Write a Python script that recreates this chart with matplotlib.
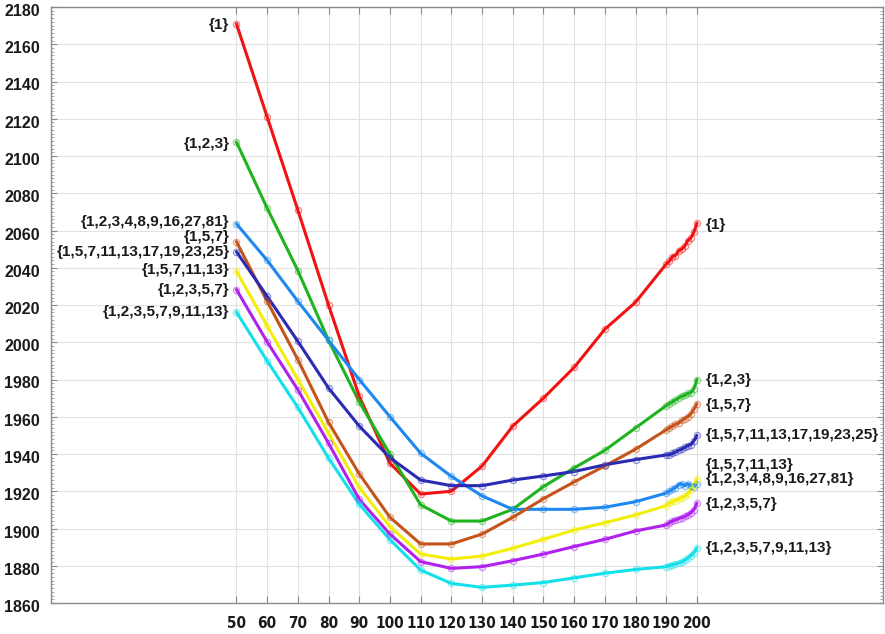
import matplotlib
matplotlib.use("Agg")
import matplotlib.pyplot as plt
import matplotlib.transforms as mtransforms
from matplotlib.ticker import MultipleLocator, FixedLocator

# x positions: coarse steps up to 190, then unit steps to 200
x = [50, 60, 70, 80, 90, 100, 110, 120, 130, 140, 150, 160, 170, 180, 190,
     191, 192, 193, 194, 195, 196, 197, 198, 199, 200]

s_1 = [2171, 2121, 2071, 2020, 1971, 1935, 1918.5, 1920, 1933.5, 1955, 1970, 1986.5, 2007,
       2021.5, 2042, 2043.5, 2046, 2046.5, 2049, 2050, 2051.5, 2054.5, 2056, 2059, 2064]
s_123 = [2107.5, 2072, 2038.5, 2001, 1968, 1940, 1912.7, 1904, 1904, 1910.3, 1922.5, 1932.5,
         1942, 1954, 1966, 1967, 1968, 1969, 1970, 1971, 1971.5, 1972.5, 1973, 1975, 1980]
s_pow = [2063.6, 2044, 2022, 2001, 1980, 1960, 1940.4, 1928, 1917.5, 1910.3, 1910.3, 1910.3,
         1911.4, 1914.4, 1919, 1920, 1921, 1922, 1923.5, 1924, 1923, 1924, 1923, 1922.5, 1924]
s_157 = [2054, 2022, 1990.7, 1957, 1929.3, 1906, 1891.7, 1891.7, 1897, 1906, 1916, 1925,
         1933.6, 1942.6, 1953, 1954, 1955, 1956, 1956.5, 1958, 1959, 1960, 1961.5, 1964, 1967]
s_157_25 = [2048.6, 2024.7, 2000.5, 1975.4, 1955, 1938, 1926, 1923, 1923, 1926, 1928.2, 1930.6,
            1934.2, 1937, 1939.5, 1939.5, 1940.3, 1941, 1942, 1942.5, 1943.5, 1944.5, 1945,
            1947, 1950]
s_157_13 = [2038.2, 2008.8, 1980, 1951.2, 1922, 1901, 1886.3, 1883.6, 1885.2, 1889.4, 1894.2,
            1899.2, 1903.1, 1907.3, 1912.3, 1913.5, 1914.5, 1915, 1915.7, 1916.6, 1917.3,
            1918.6, 1920.7, 1923.4, 1926.5]
s_1235 = [2028.3, 2000.2, 1974.5, 1945.8, 1915.7, 1897, 1882.2, 1878.6, 1879.5, 1882.7, 1886.3,
          1890.3, 1894.2, 1898.7, 1901.9, 1903, 1904, 1904.6, 1905.3, 1905.8, 1906.5, 1907.3,
          1908.5, 1910, 1913.6]
s_1235_13 = [2016.2, 1990, 1965, 1937.8, 1913, 1894, 1877.7, 1870.5, 1868.4, 1869.6, 1871,
             1873.5, 1876, 1878, 1879.5, 1880, 1880.5, 1881, 1881.5, 1882, 1883, 1884, 1885.5,
             1887, 1889.5]

names = ["{1}", "{1,2,3}", "{1,2,3,4,8,9,16,27,81}", "{1,5,7}",
         "{1,5,7,11,13,17,19,23,25}", "{1,5,7,11,13}", "{1,2,3,5,7}",
         "{1,2,3,5,7,9,11,13}"]
series = [s_1, s_123, s_pow, s_157, s_157_25, s_157_13, s_1235, s_1235_13]
colors = ["#f21212", "#1fb41f", "#1e88f0", "#c4541a", "#2a2ab4", "#f2ee08", "#b020ee", "#12e0ea"]

# vertical nudges (points) for the end labels so they do not collide
left_dy = [0, 0, 2.6, 4.8, 1.2, 1.7, 0.5, 0.9]
right_dy = [0, 0.7, 4.3, 0.5, 1.0, 11.5, 0.4, 1.2]

xticks = [50, 60, 70, 80, 90, 100, 110, 120, 130, 140, 150, 160, 170, 180, 190, 200]

fig = plt.figure(figsize=(8.85, 6.34), dpi=100)
ax = fig.add_axes([51 / 885, 31 / 634, (883 - 51) / 885, (603 - 7) / 634])

label_font = dict(family=["Liberation Sans", "DejaVu Sans"], weight="bold", size=11,
                  color="#1a1a1a")

for ys, c, name, ldy, rdy in zip(series, colors, names, left_dy, right_dy):
    ax.plot(x, ys, color=c, lw=2.2, solid_capstyle="round", zorder=3)
    ax.plot(x, ys, ls="none", marker="o", ms=4.4, mfc="none", mec=c, mew=1.0,
            alpha=0.5, zorder=4)
    ax.annotate(name, (x[0], ys[0]), xytext=(-5, ldy), textcoords="offset points",
                ha="right", va="center_baseline", **label_font)
    ax.annotate(name, (x[-1], ys[-1]), xytext=(6.5, rdy), textcoords="offset points",
                ha="left", va="center_baseline", **label_font)

ax.set_xlim(-10.4, 260.6)
ax.set_ylim(1860, 2180)

ax.xaxis.set_major_locator(FixedLocator(xticks))
ax.yaxis.set_major_locator(MultipleLocator(20))
ax.yaxis.set_minor_locator(MultipleLocator(2))

ax.grid(True, which="major", color="#e2e2e2", lw=0.8, zorder=0)
ax.set_axisbelow(True)

for sp in ax.spines.values():
    sp.set_color("#8a8a8a")
    sp.set_linewidth(1.0)

ax.tick_params(axis="x", which="major", direction="in", length=5, width=0.8,
               color="#8a8a8a", top=True, bottom=True, pad=9)
ax.tick_params(axis="y", which="major", direction="in", length=4.5, width=0.8,
               color="#8a8a8a", left=True, right=True, pad=8)
ax.tick_params(axis="y", which="minor", direction="in", length=2.5, width=0.6,
               color="#9a9a9a", left=True, right=True)

ylab_shift = mtransforms.ScaledTranslation(0, -3 / 100, fig.dpi_scale_trans)
for t in ax.get_yticklabels():
    t.set_fontfamily(["Liberation Sans", "DejaVu Sans"])
    t.set_fontweight("bold")
    t.set_fontsize(11.5)
    t.set_color("#1a1a1a")
    t.set_transform(t.get_transform() + ylab_shift)
for t in ax.get_xticklabels():
    t.set_fontfamily(["DejaVu Sans"])
    t.set_fontstretch("condensed")
    t.set_fontweight("bold")
    t.set_fontsize(11)
    t.set_color("#1a1a1a")

fig.savefig("out.png", dpi=100, facecolor="white")
